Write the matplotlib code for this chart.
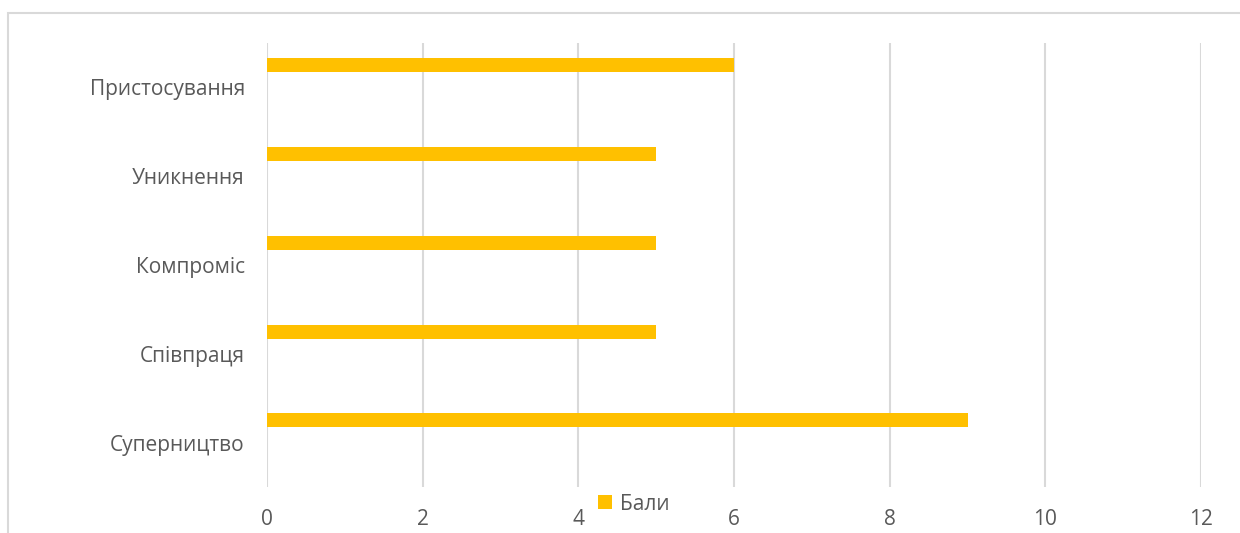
import matplotlib

matplotlib.use("Agg")
from matplotlib import pyplot as plt
from matplotlib.patches import Rectangle

CATEGORIES = ["Суперництво", "Співпраця", "Компроміс", "Уникнення", "Пристосування"]
SCORES = [9, 5, 5, 5, 6]
SERIES_NAME = "Бали"
X_TICKS = [0, 2, 4, 6, 8, 10, 12]

BAR_COLOR = "#FFC000"
TEXT_COLOR = "#595959"
GRID_COLOR = "#D9D9D9"

plt.rcParams["font.family"] = ["Open Sans", "DejaVu Sans"]

fig = plt.figure(figsize=(12.4, 5.33), dpi=100)
fig.patches.append(
    Rectangle((8 / 1240, -0.05), 1.1, 1 - 13 / 533 + 0.05, transform=fig.transFigure,
              fill=False, edgecolor=GRID_COLOR, linewidth=1.5)
)

ax = fig.add_axes([267 / 1240, 1 - 487 / 533, 934 / 1240, 444 / 533])
positions = list(range(len(CATEGORIES)))
# single series drawn in the upper slot of each category band
ax.barh([p + 0.25 for p in positions], SCORES, height=0.158, color=BAR_COLOR,
        label=SERIES_NAME, zorder=3)

ax.set_xlim(0, 12)
ax.set_ylim(-0.5, len(CATEGORIES) - 0.5)
ax.set_xticks(X_TICKS)
ax.set_yticks(positions)
ax.set_yticklabels(CATEGORIES)
ax.tick_params(axis="both", length=0, labelsize=15, labelcolor=TEXT_COLOR)
ax.tick_params(axis="x", pad=16)
ax.tick_params(axis="y", pad=16)
ax.grid(axis="x", color=GRID_COLOR, linewidth=1.5, zorder=0)
for spine in ax.spines.values():
    spine.set_visible(False)

fig.legend(loc="center", bbox_to_anchor=(634 / 1240, 1 - 504 / 533), frameon=False,
           fontsize=15, labelcolor=TEXT_COLOR, handlelength=0.65, handleheight=0.65,
           handletextpad=0.4)

fig.savefig("out.png", dpi=100)
